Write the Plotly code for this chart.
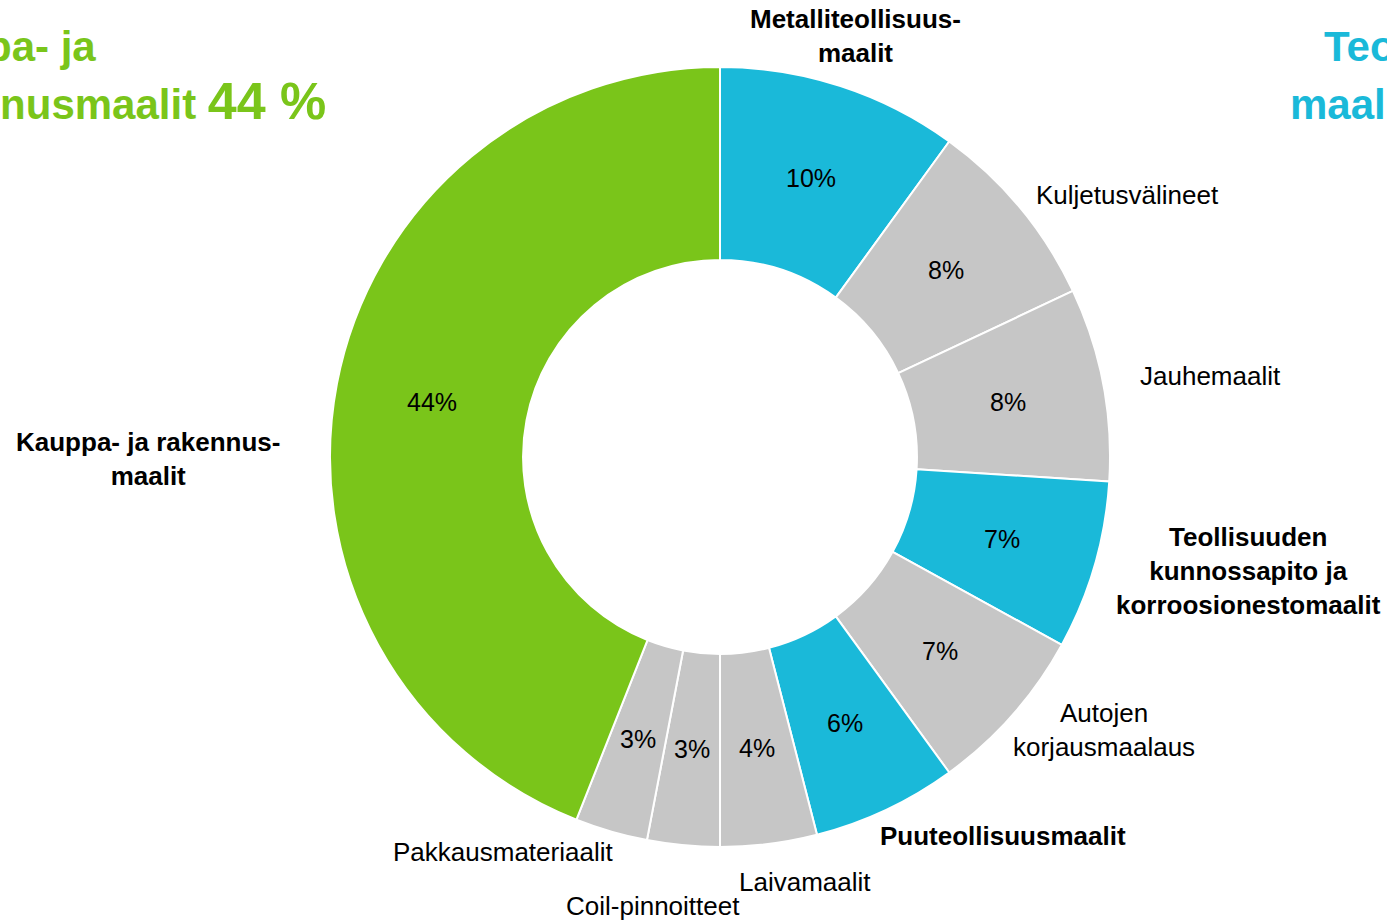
import math

import plotly.graph_objects as go

W, H = 1387, 920

# Maalimarkkinat segmenteittäin (%), myötäpäivään klo 12:sta alkaen
segmentit = [
    "Metalliteollisuusmaalit", "Kuljetusvälineet", "Jauhemaalit",
    "Teollisuuden kunnossapito ja korroosionestomaalit", "Autojen korjausmaalaus",
    "Puuteollisuusmaalit", "Laivamaalit", "Coil-pinnoitteet",
    "Pakkausmateriaalit", "Kauppa- ja rakennusmaalit",
]
osuudet = [10, 8, 8, 7, 7, 6, 4, 3, 3, 44]
ryhmat = ["teollisuus", "muu", "muu", "teollisuus", "muu",
          "teollisuus", "muu", "muu", "muu", "kauppa"]

GREEN = "#7AC51A"
CYAN = "#1AB9D9"
GREY = "#C6C6C6"
VARIT = {"teollisuus": CYAN, "muu": GREY, "kauppa": GREEN}
FONT = "Liberation Sans, Arial, sans-serif"

# ulkopuoliset nimiöt: (teksti, lihavoitu, x px, y px)
nimiot = [
    ("Metalliteollisuus-<br>maalit", True, 855, 36),
    ("Kuljetusvälineet", False, 1127, 195),
    ("Jauhemaalit", False, 1210, 376),
    ("Teollisuuden<br>kunnossapito ja<br>korroosionestomaalit", True, 1248, 571),
    ("Autojen<br>korjausmaalaus", False, 1104, 730),
    ("Puuteollisuusmaalit", True, 1003, 836),
    ("Laivamaalit", False, 805, 882),
    ("Coil-pinnoitteet", False, 653, 906),
    ("Pakkausmateriaalit", False, 503, 852),
    ("Kauppa- ja rakennus-<br>maalit", True, 148, 459),
]


def px_x(x):
    return x / W


def px_y(y):
    return 1 - y / H


# donitsin paikka kuvassa
cx, cy, r = 720, 457, 390
HOLE = 0.505
dom_x = [px_x(cx - r), px_x(cx + r)]
dom_y = [px_y(cy + r), px_y(cy - r)]

fig = go.Figure(go.Pie(
    labels=segmentit,
    values=osuudet,
    sort=False,
    direction="clockwise",
    rotation=0,
    hole=HOLE,
    marker=dict(colors=[VARIT[g] for g in ryhmat], line=dict(color="white", width=2)),
    textinfo="none",
    domain=dict(x=dom_x, y=dom_y),
    showlegend=False,
))

annotations = []

# prosenttiluvut renkaan keskelle, lohkon keskikulmaan
total = sum(osuudet)
r_mid = r * (1 + HOLE) / 2
kertyma = 0
for v in osuudet:
    kulma = 2 * math.pi * (kertyma + v / 2) / total
    kertyma += v
    annotations.append(dict(
        text=f"{round(100 * v / total)}%",
        x=px_x(cx + r_mid * math.sin(kulma)), y=px_y(cy - r_mid * math.cos(kulma)),
        xref="paper", yref="paper", xanchor="center", yanchor="middle",
        showarrow=False, font=dict(family=FONT, size=25, color="black"),
    ))

for teksti, lihava, x, y in nimiot:
    annotations.append(dict(
        text=f"<b>{teksti}</b>" if lihava else teksti,
        x=px_x(x), y=px_y(y), xref="paper", yref="paper",
        xanchor="center", yanchor="middle", showarrow=False,
        font=dict(family=FONT, size=26, color="black"),
    ))

# reunoilta leikkautuvat otsikot
otsikot = [
    ("<b>Kauppa- ja</b>", GREEN, 98, 47, "right"),
    ("<b>rakennusmaalit <span style='font-size:52px'>44 %</span></b>", GREEN, 328, 101, "right"),
    ("<b>Teollisuus-</b>", CYAN, 1322, 47, "left"),
    ("<b>maalit <span style='font-size:52px'>56 %</span></b>", CYAN, 1288, 101, "left"),
]
for teksti, vari, x, y, anchor in otsikot:
    annotations.append(dict(
        text=teksti, x=px_x(x), y=px_y(y), xref="paper", yref="paper",
        xanchor=anchor, yanchor="middle", showarrow=False,
        font=dict(family=FONT, size=42, color=vari),
    ))

fig.update_layout(
    width=W, height=H,
    margin=dict(l=0, r=0, t=0, b=0),
    paper_bgcolor="white",
    plot_bgcolor="white",
    annotations=annotations,
)

fig.write_html(
    "out.html",
    config={"displayModeBar": False},
    post_script="document.body.style.margin='0';document.body.style.overflow='hidden';",
)
